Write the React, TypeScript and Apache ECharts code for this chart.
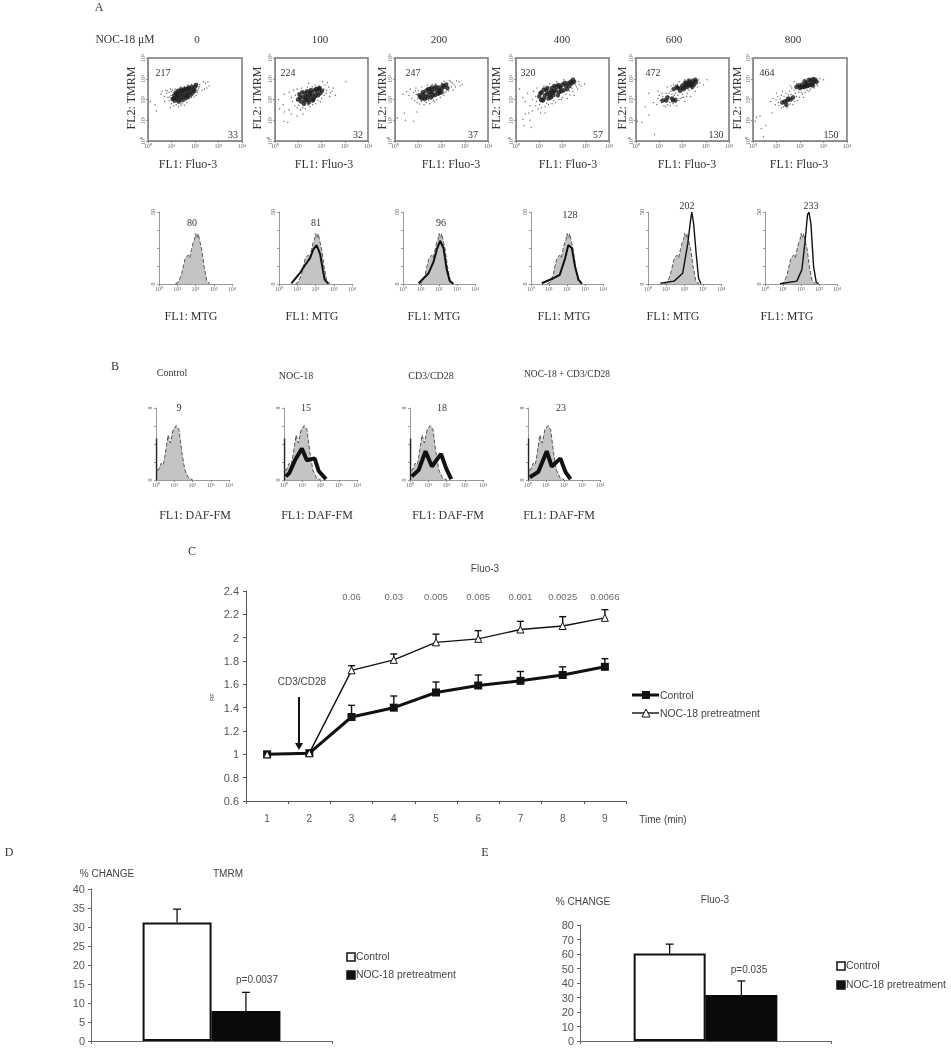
import React, { useEffect, useRef } from "react";
import * as echarts from "echarts";

// ---------- Panel A: FL1 Fluo-3 vs FL2 TMRM, log10 decades (dense core + sparse events)
const concentrations = ["0", "100", "200", "400", "600", "800"];
const tmrmValues = ["217", "224", "247", "320", "472", "464"];
const fluoValues = ["33", "32", "37", "57", "130", "150"];
const mtgValues = ["80", "81", "96", "128", "202", "233"];
const decadeLabels = ["10⁰", "10¹", "10²", "10³", "10⁴"];

const core0 = [[1.05,2.02],[1.12,2.2],[1.15,1.95],[1.22,2.1],[1.25,2.3],[1.3,2.0],[1.35,2.2],[1.38,2.38],[1.42,2.08],[1.45,2.28],[1.5,2.42],[1.52,2.15],[1.58,2.3],[1.62,2.5],[1.66,2.22],[1.7,2.38],[1.76,2.52],[1.8,2.35],[1.86,2.6],[1.92,2.48],[2.0,2.62],[1.1,2.05],[1.18,2.32],[1.28,2.42],[1.32,1.9],[1.48,1.98],[1.55,2.5],[1.62,2.08],[1.72,2.58],[1.78,2.2],[1.9,2.32],[1.98,2.42],[2.04,2.7],[1.68,2.12],[1.25,2.18],[1.42,2.48]];
const sparse0 = [[0.55,2.25],[0.6,2.4],[0.7,2.15],[0.75,2.45],[0.8,2.3],[0.85,2.1],[0.9,1.95],[0.95,2.5],[0.9,2.35],[1.0,1.8],[1.1,1.7],[1.2,1.75],[1.3,1.65],[1.45,1.8],[1.6,1.95],[1.75,2.05],[1.9,2.2],[2.1,2.35],[2.15,2.55],[2.2,2.72],[2.1,2.78],[1.7,2.7],[1.4,2.6],[1.15,2.5],[2.3,2.45],[2.4,2.5],[2.5,2.55],[2.6,2.65],[2.45,2.78],[2.35,2.85],[2.55,2.85],[0.3,1.75],[0.35,1.45],[0.1,1.9],[0.95,1.6],[1.05,2.45],[1.25,1.85],[1.55,1.72],[1.85,2.1],[2.05,2.2],[0.72,1.9],[1.35,2.55],[0.98,2.2],[0.92,2.12],[0.82,2.42],[1.0,2.38],[1.08,1.85],[1.4,1.72],[1.65,1.85],[1.95,2.12],[2.12,2.45],[2.18,2.62],[1.55,2.62],[1.85,2.72]];
const core1 = [[1.0,2.0],[1.05,2.25],[1.12,1.9],[1.2,2.12],[1.25,1.8],[1.3,2.3],[1.35,2.0],[1.4,2.18],[1.45,1.85],[1.5,2.35],[1.55,2.1],[1.6,2.28],[1.65,2.0],[1.7,2.45],[1.75,2.2],[1.8,2.38],[1.88,2.5],[1.95,2.3],[1.08,2.1],[1.18,2.35],[1.28,1.95],[1.38,2.4],[1.45,1.98],[1.55,2.45],[1.62,1.95],[1.7,2.12],[1.78,2.52],[1.85,2.2],[1.92,2.55],[2.02,2.42],[1.5,2.22],[1.32,2.12]];
const sparse1 = [[0.4,2.25],[0.6,2.35],[0.7,2.1],[0.75,1.9],[0.8,2.45],[0.85,1.7],[0.95,2.5],[0.95,1.6],[1.1,1.5],[1.15,2.55],[1.3,1.55],[1.4,2.6],[1.5,1.65],[1.6,2.62],[1.75,1.8],[1.9,2.65],[2.0,2.05],[2.1,2.5],[2.15,2.7],[2.2,2.3],[2.3,2.6],[2.35,2.15],[2.45,2.4],[2.5,2.55],[2.6,2.2],[2.25,2.82],[3.05,2.87],[0.35,1.75],[0.4,1.4],[0.6,1.5],[0.38,0.95],[0.55,0.9],[0.7,1.3],[0.95,1.2],[1.2,1.3],[0.15,2.0],[0.2,1.55],[2.05,2.85],[1.45,2.78],[1.85,1.95],[0.88,2.2],[0.92,1.95],[1.02,1.72],[1.2,1.62],[1.42,1.72],[1.62,1.75],[1.95,1.88],[2.12,2.2],[2.22,2.45],[2.38,2.32],[1.72,2.7]];
const core2 = [[1.05,2.2],[1.15,2.05],[1.2,2.35],[1.3,2.15],[1.35,2.42],[1.45,2.25],[1.5,2.5],[1.55,2.1],[1.6,2.36],[1.68,2.52],[1.72,2.22],[1.8,2.42],[1.88,2.58],[1.92,2.32],[2.0,2.5],[2.1,2.62],[2.2,2.72],[1.1,2.12],[1.22,2.25],[1.28,2.02],[1.4,2.1],[1.42,2.5],[1.58,2.58],[1.62,2.2],[1.75,2.62],[1.85,2.28],[2.0,2.35],[2.05,2.68],[2.25,2.55],[1.52,2.36],[1.9,2.45]];
const sparse2 = [[0.35,2.25],[0.5,2.38],[0.6,2.2],[0.65,2.5],[0.72,2.05],[0.8,2.35],[0.85,1.95],[0.9,2.55],[0.95,1.85],[1.05,1.78],[1.15,2.6],[1.25,1.75],[1.35,1.85],[1.5,1.8],[1.65,1.95],[1.8,2.0],[1.95,2.1],[2.1,2.2],[2.2,2.4],[2.3,2.55],[2.4,2.85],[2.5,2.45],[2.55,2.7],[2.65,2.9],[2.75,2.85],[2.8,2.65],[2.9,2.72],[2.6,2.6],[2.35,2.92],[2.1,2.88],[0.1,1.1],[0.4,1.35],[0.45,1.0],[0.8,0.95],[0.95,1.4],[1.4,2.7],[1.75,2.75],[2.0,2.8],[0.92,2.25],[0.98,2.05],[0.88,2.42],[1.15,1.9],[1.45,1.95],[1.7,1.9],[2.15,2.32],[2.3,2.42],[2.42,2.62],[2.48,2.8],[1.6,2.72],[1.0,2.42]];
const core3 = [[1.0,2.15],[1.1,2.35],[1.15,1.95],[1.25,2.2],[1.3,2.45],[1.4,2.05],[1.45,2.32],[1.55,2.55],[1.6,2.2],[1.7,2.45],[1.75,2.62],[1.85,2.35],[1.9,2.55],[2.0,2.72],[2.05,2.45],[2.15,2.65],[2.25,2.78],[2.35,2.85],[2.45,2.95],[1.35,2.28],[1.65,2.38],[1.05,2.3],[1.2,2.05],[1.2,2.48],[1.35,2.55],[1.5,2.1],[1.52,2.42],[1.65,2.65],[1.8,2.2],[1.82,2.7],[1.95,2.4],[2.1,2.8],[2.2,2.5],[2.3,2.65],[2.4,2.78],[1.08,1.98],[1.45,2.18],[1.9,2.62],[2.5,2.85],[1.58,2.32]];
const sparse3 = [[0.15,2.5],[0.3,2.1],[0.4,1.9],[0.5,2.3],[0.6,1.7],[0.7,2.0],[0.75,2.4],[0.85,1.7],[0.9,2.55],[0.95,1.55],[1.1,1.6],[1.2,2.65],[1.25,1.65],[1.4,1.75],[1.55,1.8],[1.7,1.85],[1.85,2.0],[2.0,2.1],[2.15,2.25],[2.3,2.4],[2.4,2.55],[2.5,2.2],[2.55,2.7],[2.65,2.5],[2.7,2.85],[2.8,2.65],[2.95,2.75],[1.75,2.85],[2.05,2.95],[0.4,1.3],[0.55,1.35],[0.3,1.05],[0.6,1.0],[0.35,0.75],[0.65,0.65],[1.05,1.35],[1.25,1.35],[0.7,1.45],[1.45,2.75],[2.2,2.05],[0.85,2.15],[0.88,1.9],[1.02,1.75],[1.32,1.82],[1.62,1.95],[1.95,2.0],[2.32,2.22],[2.45,2.38],[2.6,2.6],[2.72,2.72]];
const core4 = [[1.3,1.95],[1.55,2.05],[1.7,1.98],[1.62,2.5],[1.8,2.55],[1.9,2.42],[2.0,2.68],[2.05,2.5],[2.15,2.75],[2.2,2.6],[2.3,2.82],[2.35,2.68],[2.45,2.88],[2.5,2.72],[2.58,2.85],[2.1,2.6],[2.25,2.7],[2.4,2.78],[2.55,2.95],[2.28,2.9],[2.12,2.82],[2.42,2.62],[1.75,2.6],[1.95,2.55],[1.35,2.1],[1.15,1.95],[1.6,1.95]];
const sparse4 = [[0.4,1.65],[0.55,2.3],[0.75,1.85],[0.95,2.4],[0.9,1.75],[1.0,2.2],[1.1,1.85],[1.15,2.15],[1.2,1.7],[1.3,2.3],[1.35,1.75],[1.4,2.15],[1.45,1.85],[1.5,2.4],[1.6,1.8],[1.65,2.2],[1.75,1.7],[1.8,2.2],[1.9,2.05],[2.0,2.25],[2.1,1.9],[2.2,2.3],[2.35,2.15],[2.4,2.5],[2.55,2.4],[2.65,2.6],[2.75,2.8],[2.7,2.95],[2.4,3.0],[1.85,2.85],[2.1,2.95],[3.05,2.95],[2.9,2.7],[0.55,1.25],[0.05,0.95],[0.25,0.9],[0.8,0.3],[1.35,2.6],[1.5,2.65],[1.25,1.95],[0.95,2.05],[1.05,1.95],[1.12,2.3],[1.22,2.05],[1.28,1.65],[1.42,2.3],[1.48,1.7],[1.55,2.25],[1.7,2.3],[1.72,1.85],[1.85,1.95],[1.98,2.1],[2.05,2.1],[2.18,2.15],[2.28,2.45],[2.62,2.75],[1.62,2.7],[1.78,2.72]];
const core5 = [[1.35,1.9],[1.5,2.05],[1.7,2.1],[1.85,2.6],[2.0,2.55],[2.1,2.72],[2.2,2.62],[2.3,2.82],[2.35,2.68],[2.45,2.9],[2.5,2.75],[2.6,2.85],[2.65,2.95],[2.25,2.75],[2.15,2.6],[2.3,2.65],[2.45,2.7],[2.55,2.68],[2.7,2.85],[2.4,2.95],[2.2,2.88],[2.55,2.98],[1.95,2.68],[2.05,2.6],[1.25,1.85],[1.45,1.95],[1.42,1.75],[1.6,2.0]];
const sparse5 = [[0.75,1.9],[0.85,2.05],[0.95,1.75],[1.05,2.15],[1.1,1.7],[1.2,2.2],[1.3,1.65],[1.4,2.3],[1.45,1.6],[1.55,2.4],[1.65,2.55],[1.7,1.75],[1.8,2.3],[1.9,1.95],[1.95,2.35],[1.85,2.75],[2.05,2.35],[2.15,2.1],[2.3,2.45],[2.45,2.5],[2.6,2.55],[2.75,2.65],[2.8,2.85],[2.85,3.0],[2.6,3.05],[2.3,3.0],[3.0,2.95],[0.15,1.15],[0.3,1.2],[0.1,0.95],[0.35,0.6],[0.55,0.75],[0.45,0.2],[0.8,1.35],[1.55,1.95],[1.75,2.85],[1.25,2.4],[1.0,2.3],[0.98,1.98],[1.08,1.85],[1.15,2.02],[1.22,1.6],[1.32,2.15],[1.38,1.72],[1.5,2.22],[1.58,1.78],[1.62,2.25],[1.78,1.9],[1.85,2.15],[1.98,2.12],[2.1,2.25],[2.22,2.35],[2.38,2.4],[2.72,2.72],[1.75,2.45],[1.6,2.65]];
const coreSets = [core0, core1, core2, core3, core4, core5];
const sparseSets = [sparse0, sparse1, sparse2, sparse3, sparse4, sparse5];

// ---------- MTG histograms [log10 intensity, counts]
const mtgBase = [[0.9,0.2],[1.05,1],[1.23,6.4],[1.42,17],[1.5,19],[1.6,20],[1.68,18],[1.78,24],[1.88,29],[1.95,31],[2.0,35],[2.08,32],[2.15,35],[2.25,29],[2.34,24],[2.47,12],[2.62,2],[2.8,0.2]];
const mtgOverlays = [
  [],
  [[0.68,0.4],[1.14,7.5],[1.42,13],[1.7,18],[1.88,24],[2.06,27],[2.25,21],[2.4,10],[2.5,3],[2.7,0.3]],
  [[0.87,0.5],[1.42,7.5],[1.7,15.6],[1.88,24],[2.06,30],[2.25,25],[2.43,10],[2.6,2],[2.8,0.2]],
  [[0.6,0.5],[1.25,4],[1.6,6.4],[1.9,18],[2.07,27],[2.27,25],[2.45,12],[2.64,3],[2.83,0.2]],
  [[0.68,0.5],[1.43,2],[1.9,7.5],[2.18,28],[2.33,44],[2.4,50],[2.5,42],[2.64,21],[2.77,4],[2.9,0.2]],
  [[0.84,0.2],[1.77,2],[2.05,10],[2.23,30],[2.36,48],[2.44,50],[2.55,42],[2.7,12],[2.85,1],[2.98,0.2]],
];

// ---------- DAF-FM histograms
const dafTitles = ["Control", "NOC-18", "CD3/CD28", "NOC-18 + CD3/CD28"];
const dafValues = ["9", "15", "18", "23"];
const dafBase = [[0.06,1.1],[0.13,1.1],[0.28,1.86],[0.4,1.67],[0.5,2.8],[0.66,5.0],[0.79,4.1],[0.94,5.6],[1.11,6.05],[1.26,5.6],[1.41,3.16],[1.58,1.1],[1.79,0.2],[2,0.05]];
const dafSpike = [[0.03,0],[0.03,4.6]];
const dafOverlays = [
  [],
  [[0.1,0.4],[0.3,0.8],[0.6,2.2],[0.98,3.5],[1.25,2.2],[1.68,2.4],[1.9,1.0],[2.3,0.1]],
  [[0.1,0.4],[0.47,1.1],[0.85,3.2],[1.2,1.5],[1.7,2.9],[1.98,1.3],[2.26,0.1]],
  [[0.1,0.3],[0.57,0.9],[1.04,3.2],[1.32,1.5],[1.8,2.4],[2.08,0.9],[2.36,0.1]],
];

// ---------- Panel C
const minutes = ["1", "2", "3", "4", "5", "6", "7", "8", "9"];
const controlRF = [1.0, 1.01, 1.32, 1.4, 1.53, 1.59, 1.63, 1.68, 1.75];
const controlTop = [1.0, 1.01, 1.42, 1.5, 1.62, 1.68, 1.71, 1.75, 1.82];
const nocRF = [1.0, 1.01, 1.72, 1.81, 1.96, 1.99, 2.07, 2.1, 2.17];
const nocTop = [1.0, 1.01, 1.76, 1.86, 2.03, 2.06, 2.14, 2.18, 2.24];
const pValues = ["", "", "0.06", "0.03", "0.005", "0.005", "0.001", "0.0025", "0.0066"];

// ---------- Panels D, E [control, NOC-18]
const tmrmChange = [31.2, 7.9];
const tmrmTop = [34.7, 12.8];
const fluoChange = [60.3, 31.7];
const fluoTop = [66.8, 41.4];

const SERIF = "'Liberation Serif', serif";
const SANS = "'Liberation Sans', sans-serif";
const INK = "#333";

const scatterBoxes = [[148,242],[275,368],[395,488],[516,609],[636,729],[753,847]];
const mtgBoxes = [[159,232],[279,352],[403,475],[531,603],[648,721],[765,837]];
const dafBoxes = [[156,229],[284,357],[410,483],[528,600]];

const txt = (text: string, x: number, y: number, size: number, family = SERIF, align = "center", rot = 0, fill = INK) => ({
  type: "text", x, y, rotation: rot, silent: true, z: 50,
  style: { text, fill, font: `${size}px ${family}`, textAlign: align, textVerticalAlign: "middle" },
});

function buildOption() {
  const grid: any[] = [], xAxis: any[] = [], yAxis: any[] = [], series: any[] = [], graphic: any[] = [];

  const addGrid = (left: number, right: number, top: number, bottom: number, g: any, x: any, y: any) => {
    const i = grid.length;
    grid.push({ left, top, width: right - left, height: bottom - top, containLabel: false, ...g });
    xAxis.push({ gridIndex: i, ...x });
    yAxis.push({ gridIndex: i, ...y });
    return i;
  };
  const decadeAxis = (rotate: number, color: string) => ({
    type: "value", min: 0, max: 4, interval: 1, splitLine: { show: false },
    axisLine: { show: true, onZero: false, lineStyle: { color, width: 1 } },
    axisTick: { show: true, length: 2, lineStyle: { color: "#888" } },
    axisLabel: { fontSize: 6, color: "#666", margin: 2, rotate, fontFamily: SERIF, hideOverlap: false, showMinLabel: true, showMaxLabel: true, formatter: (v: number) => decadeLabels[v] },
  });

  // Panel A dot plots
  const tmrmLabelX = [163, 288, 413, 528, 653, 767];
  const fluoLabelX = [233, 358, 473, 598, 716, 831];
  const titleX = [197, 320, 439, 562, 674, 793];
  const xName = [188, 324, 451, 568, 687, 799];
  const yName = [131, 257, 382, 496, 622, 737];
  scatterBoxes.forEach((b, p) => {
    const i = addGrid(b[0], b[1], 58, 141, { show: true, borderColor: "#777", borderWidth: 1.5, backgroundColor: "#fff" }, decadeAxis(0, "#888"), decadeAxis(90, "#888"));
    series.push({ type: "scatter", xAxisIndex: i, yAxisIndex: i, data: sparseSets[p], symbolSize: 1.3, itemStyle: { color: "#444" }, silent: true });
    series.push({ type: "scatter", xAxisIndex: i, yAxisIndex: i, data: coreSets[p], symbolSize: 4.6, itemStyle: { color: "#1c1c1c" }, silent: true });
    graphic.push(txt(concentrations[p], titleX[p], 39, 11));
    graphic.push(txt(tmrmValues[p], tmrmLabelX[p], 72, 10));
    graphic.push(txt(fluoValues[p], fluoLabelX[p], 134, 10));
    graphic.push(txt("FL1: Fluo-3", xName[p], 164, 12));
    graphic.push(txt("FL2: TMRM", yName[p], 98, 12, SERIF, "center", Math.PI / 2));
  });

  const histAxisY = (max: number, topLabel: string) => ({
    type: "value", min: 0, max, interval: max / 4, splitLine: { show: false },
    axisLine: { show: true, onZero: false, lineStyle: { color: "#999", width: 1 } },
    axisTick: { show: true, length: 2, lineStyle: { color: "#999" } },
    axisLabel: { fontSize: 6, color: "#555", margin: 3, rotate: 90, fontFamily: SERIF, formatter: (v: number) => (v === 0 ? "0" : v === max ? topLabel : "") },
  });
  const addHist = (b: number[], top: number, bottom: number, max: number, topLabel: string, base: number[][], over: number[][], w: number, spike?: number[][]) => {
    const i = addGrid(b[0], b[1], top, bottom, {}, decadeAxis(0, "#999"), histAxisY(max, topLabel));
    series.push({ type: "line", xAxisIndex: i, yAxisIndex: i, data: base, showSymbol: false, silent: true, lineStyle: { color: "#555", width: 1, type: "dashed" }, areaStyle: { color: "#c4c4c4", opacity: 1 }, z: 2 });
    if (spike) series.push({ type: "line", xAxisIndex: i, yAxisIndex: i, data: spike, showSymbol: false, silent: true, lineStyle: { color: "#222", width: 1.4 }, z: 3 });
    if (over.length) series.push({ type: "line", xAxisIndex: i, yAxisIndex: i, data: over, showSymbol: false, silent: true, lineStyle: { color: "#111", width: w }, z: 3 });
  };

  // MTG histograms
  const mtgName = [191, 312, 434, 564, 673, 787];
  const mtgNumX = [192, 316, 441, 570, 687, 811];
  const mtgNumY = [222, 222, 222, 214, 205, 205];
  mtgBoxes.forEach((b, p) => {
    addHist(b, 212, 284, 50, "50", mtgBase, mtgOverlays[p], p < 4 ? 2 : 1.4);
    graphic.push(txt(mtgValues[p], mtgNumX[p], mtgNumY[p], 10));
    graphic.push(txt("FL1: MTG", mtgName[p], 316, 12));
  });

  // DAF histograms
  const dafTitleX = [172, 296, 431, 567];
  const dafTitleY = [372, 375, 375, 374];
  const dafNumX = [179, 306, 442, 561];
  const dafName = [195, 317, 448, 559];
  dafBoxes.forEach((b, p) => {
    addHist(b, 408, 480, 8, "8", dafBase, dafOverlays[p], 4, dafSpike);
    graphic.push(txt(dafTitles[p], dafTitleX[p], dafTitleY[p], p === 3 ? 9.5 : 10));
    graphic.push(txt(dafValues[p], dafNumX[p], 407, 10));
    graphic.push(txt("FL1: DAF-FM", dafName[p], 515, 12));
  });

  // Panel C
  const lineIdx = addGrid(246, 626, 591, 801, {}, {
    type: "category", data: minutes, boundaryGap: true,
    axisLine: { show: true, onZero: false, lineStyle: { color: "#555" } },
    axisTick: { show: true, length: 3, alignWithLabel: false, lineStyle: { color: "#555" } },
    axisLabel: { fontSize: 10, color: "#555", fontFamily: SANS, margin: 12 },
  }, {
    type: "value", min: 0.6, max: 2.4, interval: 0.2, splitLine: { show: false },
    axisLine: { show: true, onZero: false, lineStyle: { color: "#555" } },
    axisTick: { show: true, length: 3, lineStyle: { color: "#555" } },
    axisLabel: { fontSize: 11, color: "#555", fontFamily: SANS, margin: 7 },
  });
  const capBar = (cap: number, width: number) => (params: any, api: any) => {
    const a = api.coord([api.value(0), api.value(1)]);
    const t = api.coord([api.value(0), api.value(2)]);
    const st = { stroke: "#111", lineWidth: width, fill: "none" };
    return { type: "group", children: [
      { type: "line", shape: { x1: a[0], y1: a[1], x2: t[0], y2: t[1] }, style: st },
      { type: "line", shape: { x1: t[0] - cap, y1: t[1], x2: t[0] + cap, y2: t[1] }, style: st },
    ] };
  };
  series.push({ type: "custom", xAxisIndex: lineIdx, yAxisIndex: lineIdx, silent: true, z: 2, renderItem: capBar(3.5, 1.4), encode: { x: 0, y: [1, 2] }, data: controlRF.map((v, i) => [i, v, controlTop[i]]) });
  series.push({ type: "custom", xAxisIndex: lineIdx, yAxisIndex: lineIdx, silent: true, z: 2, renderItem: capBar(3.5, 1.4), encode: { x: 0, y: [1, 2] }, data: nocRF.map((v, i) => [i, v, nocTop[i]]) });
  series.push({ type: "line", name: "Control", xAxisIndex: lineIdx, yAxisIndex: lineIdx, data: controlRF, symbol: "rect", symbolSize: 8, showAllSymbol: true, silent: true, z: 3, lineStyle: { color: "#111", width: 3 }, itemStyle: { color: "#111" } });
  series.push({ type: "line", name: "NOC-18 pretreatment", xAxisIndex: lineIdx, yAxisIndex: lineIdx, data: nocRF, symbol: "triangle", symbolSize: 7, showAllSymbol: true, silent: true, z: 4, lineStyle: { color: "#111", width: 1.4 }, itemStyle: { color: "#fff", borderColor: "#111", borderWidth: 1 } });
  series.push({ type: "scatter", xAxisIndex: lineIdx, yAxisIndex: lineIdx, symbolSize: 0, silent: true, z: 5, data: pValues.map((p, i) => [i, 2.355, p]),
    label: { show: true, position: "inside", color: "#444", fontSize: 9.5, fontFamily: SANS, formatter: (d: any) => d.value[2] } });
  graphic.push(txt("Fluo-3", 485, 568, 10, SANS, "center", 0, "#444"));
  graphic.push(txt("CD3/CD28", 302, 681, 10, SANS, "center", 0, "#444"));
  graphic.push(txt("RF", 212, 697, 6, SANS, "center", Math.PI / 2, "#444"));
  graphic.push(txt("Time (min)", 663, 819, 10, SANS, "center", 0, "#444"));
  graphic.push({ type: "line", silent: true, shape: { x1: 299, y1: 697, x2: 299, y2: 744 }, style: { stroke: "#111", lineWidth: 2 } });
  graphic.push({ type: "polygon", silent: true, shape: { points: [[295, 743], [303, 743], [299, 750]] }, style: { fill: "#111" } });
  graphic.push({ type: "line", silent: true, shape: { x1: 632, y1: 695, x2: 659, y2: 695 }, style: { stroke: "#111", lineWidth: 3 } });
  graphic.push({ type: "rect", silent: true, shape: { x: 642, y: 691, width: 8, height: 8 }, style: { fill: "#111" } });
  graphic.push(txt("Control", 660, 695, 10.4, SANS, "left", 0, "#444"));
  graphic.push({ type: "line", silent: true, shape: { x1: 632, y1: 713, x2: 659, y2: 713 }, style: { stroke: "#111", lineWidth: 1.4 } });
  graphic.push({ type: "polygon", silent: true, z: 5, shape: { points: [[642, 717], [650, 717], [646, 709]] }, style: { fill: "#fff", stroke: "#111", lineWidth: 1 } });
  graphic.push(txt("NOC-18 pretreatment", 660, 713, 10.4, SANS, "left", 0, "#444"));

  // Panels D and E
  const addBars = (left: number, right: number, top: number, bottom: number, max: number, interval: number, vals: number[], tops: number[], barW: number) => {
    const i = addGrid(left, right, top, bottom, {}, {
      type: "value", min: 0, max: 3.5, interval: 3.5, splitLine: { show: false },
      axisLine: { show: true, onZero: false, lineStyle: { color: "#666" } },
      axisTick: { show: true, length: 3, inside: false, lineStyle: { color: "#666" } },
      axisLabel: { show: false },
    }, {
      type: "value", min: 0, max, interval, splitLine: { show: false },
      axisLine: { show: true, onZero: false, lineStyle: { color: "#666" } },
      axisTick: { show: true, length: 3, lineStyle: { color: "#666" } },
      axisLabel: { fontSize: 11, color: "#555", fontFamily: SANS, margin: 6 },
    });
    series.push({ type: "custom", xAxisIndex: i, yAxisIndex: i, silent: true, z: 1, renderItem: capBar(4, 1.3), encode: { x: 0, y: [1, 2] }, data: vals.map((v, k) => [1.25 + k, v, tops[k]]) });
    series.push({ type: "bar", name: "Control", xAxisIndex: i, yAxisIndex: i, barWidth: barW, barGap: "-100%", silent: true, z: 2, data: [[1.25, vals[0]]], itemStyle: { color: "#fff", borderColor: "#111", borderWidth: 2 } });
    series.push({ type: "bar", name: "NOC-18 pretreatment", xAxisIndex: i, yAxisIndex: i, barWidth: barW, barGap: "-100%", silent: true, z: 2, data: [[2.25, vals[1]]], itemStyle: { color: "#0a0a0a" } });
  };
  addBars(91, 332, 889, 1041, 40, 5, tmrmChange, tmrmTop, 69);
  addBars(580, 831, 925, 1041, 80, 10, fluoChange, fluoTop, 72);

  const legendBox = (x: number, y: number, filled: boolean) => ({ type: "rect", silent: true, shape: { x, y: y - 4, width: 8, height: 8 }, style: { fill: filled ? "#111" : "#fff", stroke: "#111", lineWidth: 1.5 } });
  graphic.push(txt("% CHANGE", 107, 873, 10, SANS, "center", 0, "#444"));
  graphic.push(txt("TMRM", 228, 873, 10, SANS, "center", 0, "#444"));
  graphic.push(txt("p=0.0037", 257, 979, 10, SANS, "center", 0, "#444"));
  graphic.push(legendBox(347, 957, false));
  graphic.push(txt("Control", 356, 956, 10.4, SANS, "left", 0, "#444"));
  graphic.push(legendBox(347, 975, true));
  graphic.push(txt("NOC-18 pretreatment", 356, 974, 10.4, SANS, "left", 0, "#444"));

  graphic.push(txt("% CHANGE", 583, 901, 10, SANS, "center", 0, "#444"));
  graphic.push(txt("Fluo-3", 715, 899, 10, SANS, "center", 0, "#444"));
  graphic.push(txt("p=0.035", 749, 969, 10, SANS, "center", 0, "#444"));
  graphic.push(legendBox(837, 966, false));
  graphic.push(txt("Control", 846, 965, 10.4, SANS, "left", 0, "#444"));
  graphic.push(legendBox(837, 985, true));
  graphic.push(txt("NOC-18 pretreatment", 846, 984, 10.4, SANS, "left", 0, "#444"));

  // Panel letters and row header
  graphic.push(txt("A", 99, 7, 12));
  graphic.push(txt("NOC-18 μM", 125, 39, 11.5));
  graphic.push(txt("B", 115, 366, 12));
  graphic.push(txt("C", 192, 551, 12));
  graphic.push(txt("D", 9, 852, 12));
  graphic.push(txt("E", 485, 852, 12));

  return { animation: false, backgroundColor: "#fff", grid, xAxis, yAxis, series, graphic };
}

export default function App() {
  const ref = useRef<HTMLDivElement>(null);
  useEffect(() => {
    const chart = echarts.init(ref.current!, undefined, { renderer: "svg" });
    chart.setOption(buildOption() as any);
    return () => chart.dispose();
  }, []);
  return <div ref={ref} style={{ position: "absolute", left: 0, top: 0, width: 951, height: 1050, filter: "blur(0.4px)" }} />;
}
